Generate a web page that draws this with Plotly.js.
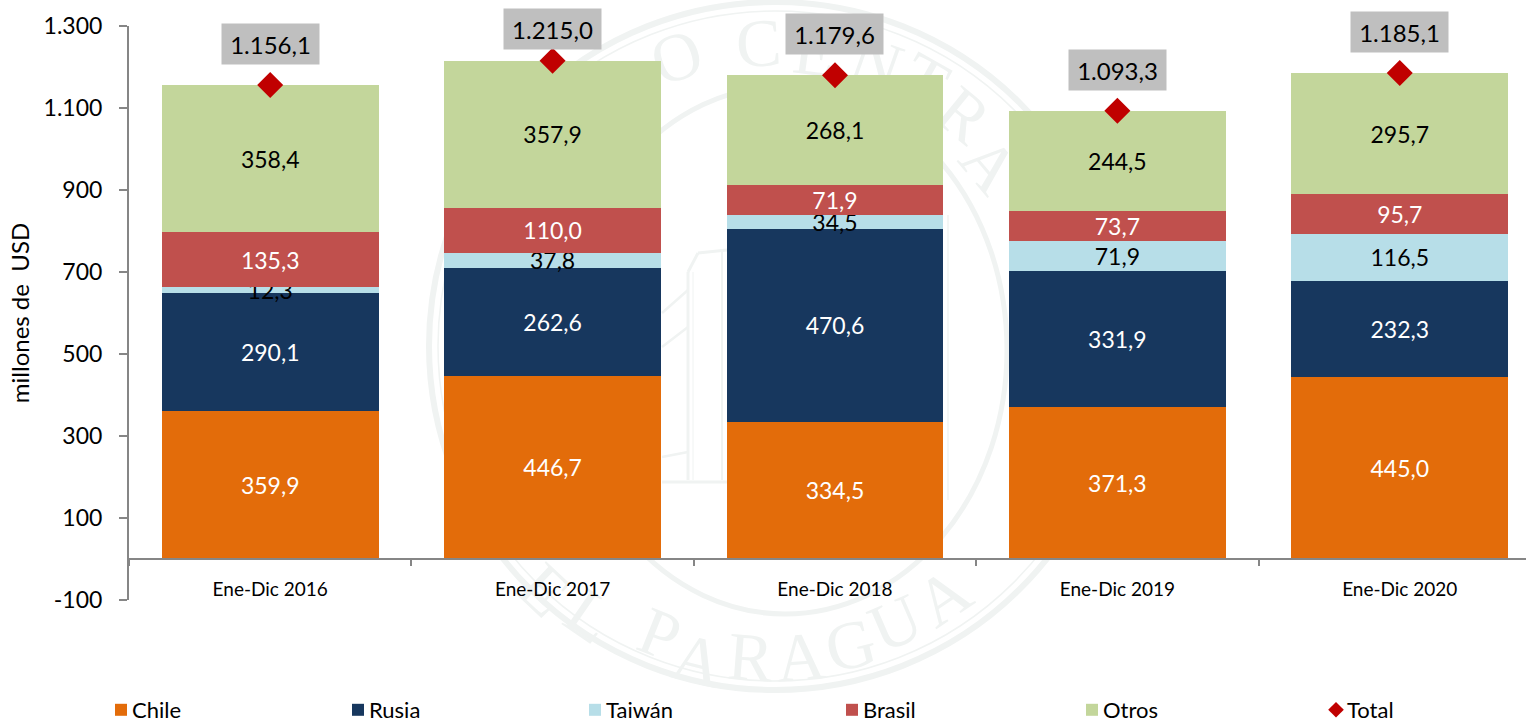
<!DOCTYPE html>
<html>
<head>
<meta charset="utf-8">
<script src="https://cdn.plot.ly/plotly-3.0.1.min.js"></script>
<style>html,body{margin:0;padding:0;background:#fff;overflow:hidden}</style>
</head>
<body>
<div id="chart" style="width:1526px;height:722px"></div>
<script>
const categories = ['Ene-Dic 2016','Ene-Dic 2017','Ene-Dic 2018','Ene-Dic 2019','Ene-Dic 2020'];
const chile  = [359.9, 446.7, 334.5, 371.3, 445.0];
const rusia  = [290.1, 262.6, 470.6, 331.9, 232.3];
const taiwan = [12.3, 37.8, 34.5, 71.9, 116.5];
const brasil = [135.3, 110.0, 71.9, 73.7, 95.7];
const otros  = [358.4, 357.9, 268.1, 244.5, 295.7];
const total  = [1156.1, 1215.0, 1179.6, 1093.3, 1185.1];
const totalLabels = ['1.156,1','1.215,0','1.179,6','1.093,3','1.185,1'];
const totalLabelShift = [41, 32, 41, 41, 41];
const yTickVals = [-100, 100, 300, 500, 700, 900, 1100, 1300];
const yTickText = ['-100','100','300','500','700','900','1.100','1.300'];

const FONT = 'Lato, "Open Sans", sans-serif';
const fmt = v => v.toFixed(1).replace('.', ',');
const bar = (name, y, color, txt) => ({
  type: 'bar', name, x: categories, y,
  marker: {color, line: {width: 0}},
  text: y.map(fmt), textposition: 'inside', insidetextanchor: 'middle',
  textangle: 0, constraintext: 'none',
  textfont: {family: FONT, size: 23, color: txt},
  hoverinfo: 'skip'
});
const traces = [
  bar('Chile', chile, '#E36C0A', '#ffffff'),
  bar('Rusia', rusia, '#17375E', '#ffffff'),
  bar('Taiwán', taiwan, '#B7DEE8', '#000000'),
  bar('Brasil', brasil, '#C0504D', '#ffffff'),
  bar('Otros', otros, '#C3D69B', '#000000'),
  {type: 'scatter', mode: 'markers', name: 'Total', x: categories, y: total,
   marker: {symbol: 'diamond', size: 20, color: '#C00000'}, cliponaxis: false, hoverinfo: 'skip'}
];

// page pixel -> paper fraction (plot area spans x 129..1526, y 26..600)
const px = x => (x - 129) / 1397;
const py = y => (600 - y) / 574;
const WM = '#f0f3f2';
const oval = (cx, cy, rx, ry, w) => ({type: 'circle', xref: 'paper', yref: 'paper', layer: 'below',
  x0: px(cx - rx), x1: px(cx + rx), y0: py(cy + ry), y1: py(cy - ry), line: {color: WM, width: w}});
const seg = (x0, y0, x1, y1, w) => ({type: 'line', xref: 'paper', yref: 'paper', layer: 'below',
  x0: px(x0), x1: px(x1), y0: py(y0), y1: py(y1), line: {color: WM, width: w}});
const shapes = [
  oval(775, 346, 346, 344, 6), oval(775, 346, 337, 335, 1.5), oval(785, 350, 222, 264, 5),
  seg(688, 480, 688, 272, 3), seg(693, 480, 693, 272, 1), seg(722, 480, 722, 250, 2),
  seg(688, 272, 698, 253, 3), seg(698, 253, 727, 250, 3), seg(662, 482, 727, 482, 3),
  seg(662, 313, 688, 290, 2.5), seg(662, 347, 688, 327, 2.5), seg(662, 457, 688, 452, 2.5),
  seg(948, 215, 948, 500, 1.5)
];

// watermark letters of the seal: [letter, page x, page y]
const sealLetters = [['O',676,57],['C',758,43],['E',815,52],['N',876,62],['T',925,80],['R',964,115],['A',990,165],
  ['E',545,590],['L',590,616],['P',660,634],['A',697,660],['R',751,657],['A',800,657],['G',850,645],['U',895,623],['A',943,597]];
const sealAnn = sealLetters.map(([t, x, y]) => ({
  text: t, xref: 'paper', yref: 'paper', x: px(x), y: py(y), xanchor: 'center', yanchor: 'middle', showarrow: false,
  textangle: y < 346 ? Math.atan2(x - 775, 346 - y) * 180 / Math.PI : Math.atan2(775 - x, y - 346) * 180 / Math.PI,
  font: {family: '"Liberation Serif", serif', size: 68, color: WM}
}));
const totalAnn = categories.map((c, i) => ({
  text: totalLabels[i], x: c, y: total[i], xref: 'x', yref: 'y', yshift: totalLabelShift[i],
  showarrow: false, width: 97, height: 40, bgcolor: '#BFBFBF', borderpad: 0, xanchor: 'center', yanchor: 'middle',
  font: {family: FONT, size: 24, color: '#000'}
}));

const layout = {
  width: 1526, height: 722,
  margin: {l: 129, r: 0, t: 26, b: 122, pad: 0, autoexpand: false},
  paper_bgcolor: '#ffffff', plot_bgcolor: 'rgba(0,0,0,0)',
  barmode: 'stack', bargap: 0.232,
  font: {family: FONT, color: '#000'},
  hovermode: false,
  xaxis: {
    type: 'category', range: [-0.5, 4.447], anchor: 'free', position: 100 / 1400,
    showline: true, linecolor: '#868686', linewidth: 2, showgrid: false, zeroline: false,
    ticks: 'outside', tickson: 'boundaries', ticklen: 6, tickwidth: 2, tickcolor: '#868686',
    ticklabelstandoff: 13, tickfont: {family: FONT, size: 19, color: '#000'}
  },
  yaxis: {
    range: [-100, 1300], tickmode: 'array', tickvals: yTickVals, ticktext: yTickText,
    showline: true, linecolor: '#868686', linewidth: 2, showgrid: false, zeroline: false,
    ticks: 'outside', ticklen: 8, tickwidth: 2, tickcolor: '#868686',
    ticklabelstandoff: 12, tickfont: {family: FONT, size: 23, color: '#000'},
    title: {text: 'millones de\u00a0\u00a0USD', font: {family: FONT, size: 24, color: '#000'}, standoff: 7}
  },
  legend: {
    orientation: 'h', x: px(101), xanchor: 'left', y: py(689), yanchor: 'top',
    entrywidth: 198, entrywidthmode: 'pixels', itemsizing: 'constant', traceorder: 'normal',
    font: {family: FONT, size: 22, color: '#000'}, bgcolor: 'rgba(0,0,0,0)'
  },
  shapes, annotations: sealAnn.concat(totalAnn)
};
// the reference legend sets its text closer to the swatch and spaces entries slightly unevenly
const legendNudge = [0, -6, -12, 2, -1, 0];
Plotly.newPlot('chart', traces, layout, {displayModeBar: false, staticPlot: true}).then(() => {
  document.querySelectorAll('#chart .legend .legendtext').forEach(t => t.setAttribute('x', 31));
  document.querySelectorAll('#chart .legend .traces').forEach((g, i) => {
    const m = /translate\(\s*([-\d.]+)[ ,]+([-\d.]+)/.exec(g.getAttribute('transform') || '');
    if (m) g.setAttribute('transform', `translate(${+m[1] + legendNudge[i]},${m[2]})`);
  });
  // the seal is a watermark: send its letters behind the bars and axis labels
  const cart = document.querySelector('#chart .cartesianlayer');
  const back = document.createElementNS('http://www.w3.org/2000/svg', 'g');
  cart.parentNode.insertBefore(back, cart);
  document.querySelectorAll('#chart .annotation').forEach(a => {
    if (+a.getAttribute('data-index') < sealLetters.length) back.appendChild(a);
  });
});
</script>
</body>
</html>
